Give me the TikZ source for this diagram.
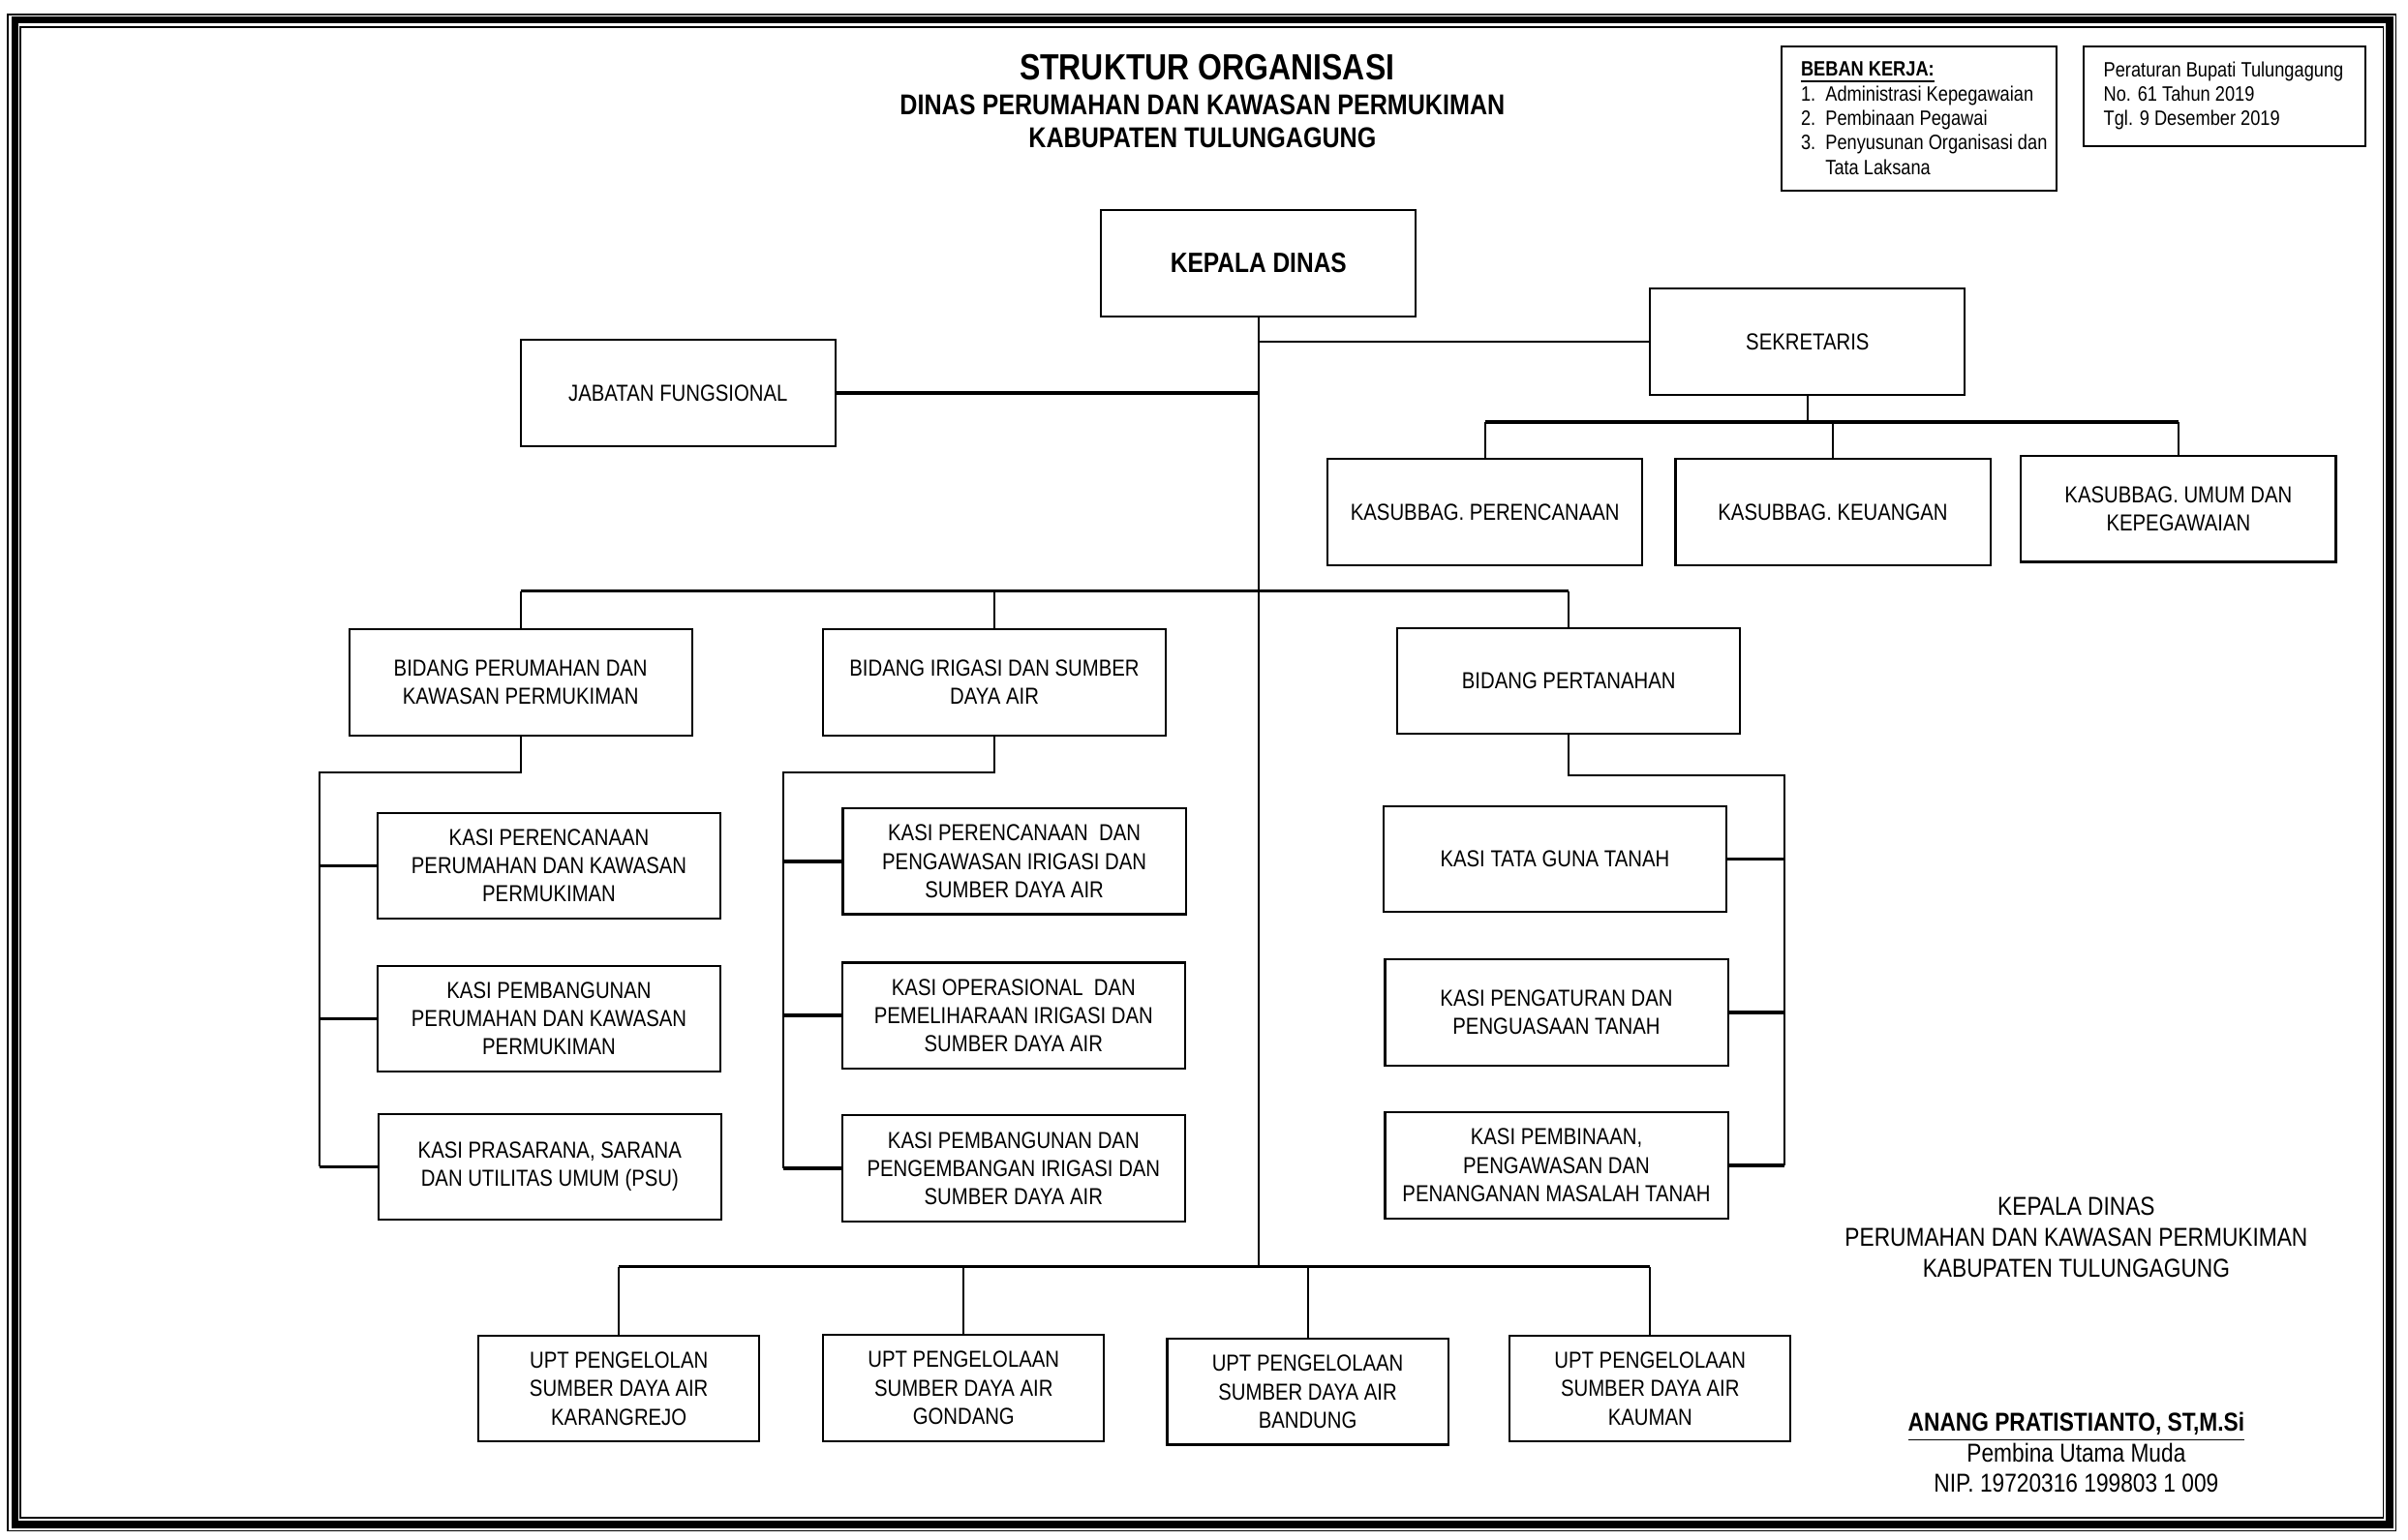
\documentclass[tikz,border=0pt]{standalone}
\usepackage{fontspec}
\setmainfont{Liberation Sans}[FakeStretch=0.85]

\begin{document}
\begin{tikzpicture}[x=0.01586cm,y=-0.01586cm,line join=miter,
    kotak/.style={draw,line width=0.6pt,align=center,inner sep=1pt,
      minimum width=3.25cm,minimum height=1.094cm,font=\fontsize{6.8}{8.3}\selectfont},
    kotakbid/.style={kotak,minimum width=3.54cm},
    kotakupt/.style={kotak,minimum width=2.90cm},
    garis/.style={line width=0.6pt},
    garisbus/.style={line width=1pt},
    ket/.style={draw,line width=0.6pt,inner sep=0pt},
    isiket/.style={align=left,inner sep=0pt,anchor=west,font=\fontsize{6.1}{7.2}\selectfont},
    judul/.style={inner sep=0pt,font=\bfseries\fontsize{10.7}{12}\selectfont},
    subjudul/.style={inner sep=0pt,font=\bfseries\fontsize{8.4}{10}\selectfont},
    ttd/.style={align=center,inner sep=0pt,font=\fontsize{7.6}{9}\selectfont}]

  \useasboundingbox (0,0) rectangle (1568,1003);

  % ============================ bingkai halaman ============================
  \draw[line width=0.4pt] (5,9.5) rectangle (1560,997);
  \draw[line width=2pt]   (9.8,13.2) rectangle (1556,993);
  \draw[line width=0.4pt] (13.2,17.7) rectangle (1552,988.6);

  % ============================ judul dan keterangan =======================
  \node[judul]    (judul1) at (786,44) {STRUKTUR ORGANISASI};
  \node[subjudul] (judul2) at (783,68) {DINAS PERUMAHAN DAN KAWASAN PERMUKIMAN};
  \node[subjudul] (judul3) at (783,90) {KABUPATEN TULUNGAGUNG};

  \node[ket,minimum width=2.84cm,minimum height=1.49cm] (beban) at (1249.5,77) {};
  \node[isiket] (bebanisi) at ([xshift=0.206cm]beban.west)
    {\textbf{\underline{BEBAN KERJA:}}\\
     1.\ \ Administrasi Kepegawaian\\
     2.\ \ Pembinaan Pegawai\\
     3.\ \ Penyusunan Organisasi dan\\
     \hphantom{3.\ \ }Tata Laksana};

  \node[ket,minimum width=2.90cm,minimum height=1.03cm] (perbup) at (1448.5,62.5) {};
  \node[isiket] (perbupisi) at ([xshift=0.206cm]perbup.west)
    {Peraturan Bupati Tulungagung\\
     No. 61 Tahun 2019\\
     Tgl. 9 Desember 2019};

  % ============================ pimpinan dan sekretariat ===================
  \node[kotak,font=\bfseries\fontsize{8.2}{10}\selectfont] (kd) at (819.5,171.5) {KEPALA DINAS};
  \node[kotak] (jf)  at (441.5,256)   {JABATAN FUNGSIONAL};
  \node[kotak] (sek) at (1177,222.5)  {SEKRETARIS};
  \node[kotak] (ks1) at (967,333.5)   {KASUBBAG. PERENCANAAN};
  \node[kotak] (ks2) at (1193.5,333.5){KASUBBAG. KEUANGAN};
  \node[kotak] (ks3) at (1418.5,331.5){KASUBBAG. UMUM DAN\\KEPEGAWAIAN};

  % ============================ bidang =====================================
  \node[kotakbid] (bd1) at (339,444.5)    {BIDANG PERUMAHAN DAN\\KAWASAN PERMUKIMAN};
  \node[kotakbid] (bd2) at (647.5,444.5)  {BIDANG IRIGASI DAN SUMBER\\DAYA AIR};
  \node[kotakbid] (bd3) at (1021.5,443.5) {BIDANG PERTANAHAN};

  % ============================ seksi ======================================
  \node[kotakbid] (k11) at (357.5,564)   {KASI PERENCANAAN\\PERUMAHAN DAN KAWASAN\\PERMUKIMAN};
  \node[kotakbid] (k12) at (357.5,663.5) {KASI PEMBANGUNAN\\PERUMAHAN DAN KAWASAN\\PERMUKIMAN};
  \node[kotakbid] (k13) at (358,760)     {KASI PRASARANA, SARANA\\DAN UTILITAS UMUM (PSU)};

  \node[kotakbid] (k21) at (660.5,561)   {KASI PERENCANAAN\ \ DAN\\PENGAWASAN IRIGASI DAN\\SUMBER DAYA AIR};
  \node[kotakbid] (k22) at (660,661.5)   {KASI OPERASIONAL\ \ DAN\\PEMELIHARAAN IRIGASI DAN\\SUMBER DAYA AIR};
  \node[kotakbid] (k23) at (660,761)     {KASI PEMBANGUNAN DAN\\PENGEMBANGAN IRIGASI DAN\\SUMBER DAYA AIR};

  \node[kotakbid] (k31) at (1012.5,559.5) {KASI TATA GUNA TANAH};
  \node[kotakbid] (k32) at (1013.5,659.5) {KASI PENGATURAN DAN\\PENGUASAAN TANAH};
  \node[kotakbid] (k33) at (1013.5,759)   {KASI PEMBINAAN,\\PENGAWASAN DAN\\PENANGANAN MASALAH TANAH};

  % ============================ UPT ========================================
  \node[kotakupt] (u1) at (403,904.5)   {UPT PENGELOLAN\\SUMBER DAYA AIR\\KARANGREJO};
  \node[kotakupt] (u2) at (627.5,904)   {UPT PENGELOLAAN\\SUMBER DAYA AIR\\GONDANG};
  \node[kotakupt] (u3) at (851.5,906.5) {UPT PENGELOLAAN\\SUMBER DAYA AIR\\BANDUNG};
  \node[kotakupt] (u4) at (1074.5,904.5){UPT PENGELOLAAN\\SUMBER DAYA AIR\\KAUMAN};

  % ============================ tanda tangan ===============================
  \node[ttd] (ttd1) at (1352,806) {KEPALA DINAS\\PERUMAHAN DAN KAWASAN PERMUKIMAN\\KABUPATEN TULUNGAGUNG};
  \node[ttd] (ttd2) at (1352,946) {\textbf{\underline{ANANG PRATISTIANTO, ST,M.Si}}\\Pembina Utama Muda\\NIP. 19720316 199803 1 009};

  % ============================ garis hubung ===============================
  \coordinate (jalurS) at (0,275);   % jalur kasubbag
  \coordinate (jalurB) at (0,385);   % jalur bidang
  \coordinate (jalurU) at (0,825);   % jalur UPT
  \coordinate (siku1)  at (208,503);
  \coordinate (siku2)  at (510,503);
  \coordinate (siku3)  at (1162,505);

  \draw[garis] (kd.south) -- (kd.south |- jalurU);
  \draw[garisbus] (jf.east) -- (jf.east -| kd.south);
  \draw[garis] (sek.west) -- (sek.west -| kd.south);

  \draw[garis] (sek.south) -- (sek.south |- jalurS);
  \draw[garisbus] (ks1.north |- jalurS) -- (ks3.north |- jalurS);
  \foreach \k in {ks1,ks2,ks3}
    \draw[garis] (\k.north) -- (\k.north |- jalurS);

  \draw[garisbus] (bd1.north |- jalurB) -- (bd3.north |- jalurB);
  \foreach \b in {bd1,bd2,bd3}
    \draw[garis] (\b.north) -- (\b.north |- jalurB);

  \draw[garis] (bd1.south) |- (siku1) -- (siku1 |- k13.west);
  \draw[garis] (bd2.south) |- (siku2) -- (siku2 |- k23.west);
  \draw[garis] (bd3.south) |- (siku3) -- (siku3 |- k33.east);
  \foreach \k in {k11,k12,k13}
    \draw[garisbus] (\k.west) -- (\k.west -| siku1);
  \foreach \k in {k21,k22,k23}
    \draw[garisbus] (\k.west) -- (\k.west -| siku2);
  \foreach \k in {k31,k32,k33}
    \draw[garisbus] (\k.east) -- (\k.east -| siku3);

  \draw[garisbus] (u1.north |- jalurU) -- (u4.north |- jalurU);
  \foreach \u in {u1,u2,u3,u4}
    \draw[garis] (\u.north) -- (\u.north |- jalurU);

\end{tikzpicture}
\end{document}
